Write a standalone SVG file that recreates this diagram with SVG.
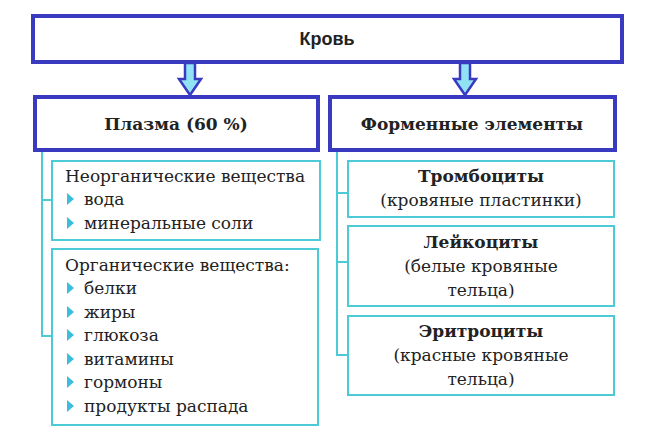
<svg xmlns="http://www.w3.org/2000/svg" width="650" height="448" viewBox="0 0 650 448">
<style>
.big{fill:#fff;stroke:#3a3ac0;stroke-width:4}
.sm{fill:#fff;stroke:#4ccad6;stroke-width:2}
.ln{fill:none;stroke:#4ccad6;stroke-width:2}
.arr{fill:#8fe3f5;stroke:#3a3ac0;stroke-width:2.5;stroke-linejoin:miter}
text{font-family:"DejaVu Serif","Liberation Serif",serif;font-size:17px;fill:#222}
.b{font-weight:bold}
.s{font-family:"Liberation Sans","DejaVu Sans",sans-serif;font-weight:bold;font-size:18px}
.bul{fill:#3bbde0}
</style>
<rect width="650" height="448" fill="#fff"/>
<g id="connectors">
<path class="arr" d="M185 63 V79 H179 L190 95 L201 79 H195 V63 Z"/>
<path class="arr" d="M460 63 V79 H454 L465 95 L476 79 H470 V63 Z"/>
<path class="ln" d="M42 151 V336 H52 M42 200 H52"/>
<path class="ln" d="M337 151 V355 H348 M337 193 H348 M337 262 H348"/>
</g>
<g id="krov"><rect class="big" x="33" y="16" width="589" height="46"/><text class="s" x="327" y="45" text-anchor="middle">Кровь</text></g>
<g id="plasma"><rect class="big" x="35" y="97" width="283" height="53"/><text class="b" x="176" y="130" text-anchor="middle">Плазма (60 %)</text></g>
<g id="formed"><rect class="big" x="330" y="97" width="285" height="53"/><text class="b" x="472" y="130" text-anchor="middle">Форменные элементы</text></g>
<g id="inorg"><rect class="sm" x="52" y="161" width="268" height="79"/>
<text x="65" y="182">Неорганические вещества</text>
<path class="bul" d="M67 193 L74 199 L67 205 Z"/><text x="84" y="205">вода</text>
<path class="bul" d="M67 217 L74 223 L67 229 Z"/><text x="84" y="229">минеральные соли</text></g>
<g id="org"><rect class="sm" x="52" y="249" width="266" height="176"/>
<text x="65" y="271">Органические вещества:</text>
<path class="bul" d="M67 282 L74 288 L67 294 Z"/><text x="84" y="294">белки</text>
<path class="bul" d="M67 306 L74 312 L67 318 Z"/><text x="84" y="318">жиры</text>
<path class="bul" d="M67 329 L74 335 L67 341 Z"/><text x="84" y="341">глюкоза</text>
<path class="bul" d="M67 353 L74 359 L67 365 Z"/><text x="84" y="365">витамины</text>
<path class="bul" d="M67 376 L74 382 L67 388 Z"/><text x="84" y="388">гормоны</text>
<path class="bul" d="M67 400 L74 406 L67 412 Z"/><text x="84" y="412">продукты распада</text></g>
<g id="tromb"><rect class="sm" x="348" y="161" width="266" height="56"/>
<text class="b" x="481" y="182" text-anchor="middle">Тромбоциты</text>
<text x="481" y="206" text-anchor="middle">(кровяные пластинки)</text></g>
<g id="leuk"><rect class="sm" x="348" y="226" width="266" height="80"/>
<text class="b" x="481" y="248" text-anchor="middle">Лейкоциты</text>
<text x="481" y="272" text-anchor="middle">(белые кровяные</text>
<text x="481" y="296" text-anchor="middle">тельца)</text></g>
<g id="eryth"><rect class="sm" x="348" y="316" width="266" height="79"/>
<text class="b" x="481" y="337" text-anchor="middle">Эритроциты</text>
<text x="481" y="361" text-anchor="middle">(красные кровяные</text>
<text x="481" y="385" text-anchor="middle">тельца)</text></g>
</svg>
